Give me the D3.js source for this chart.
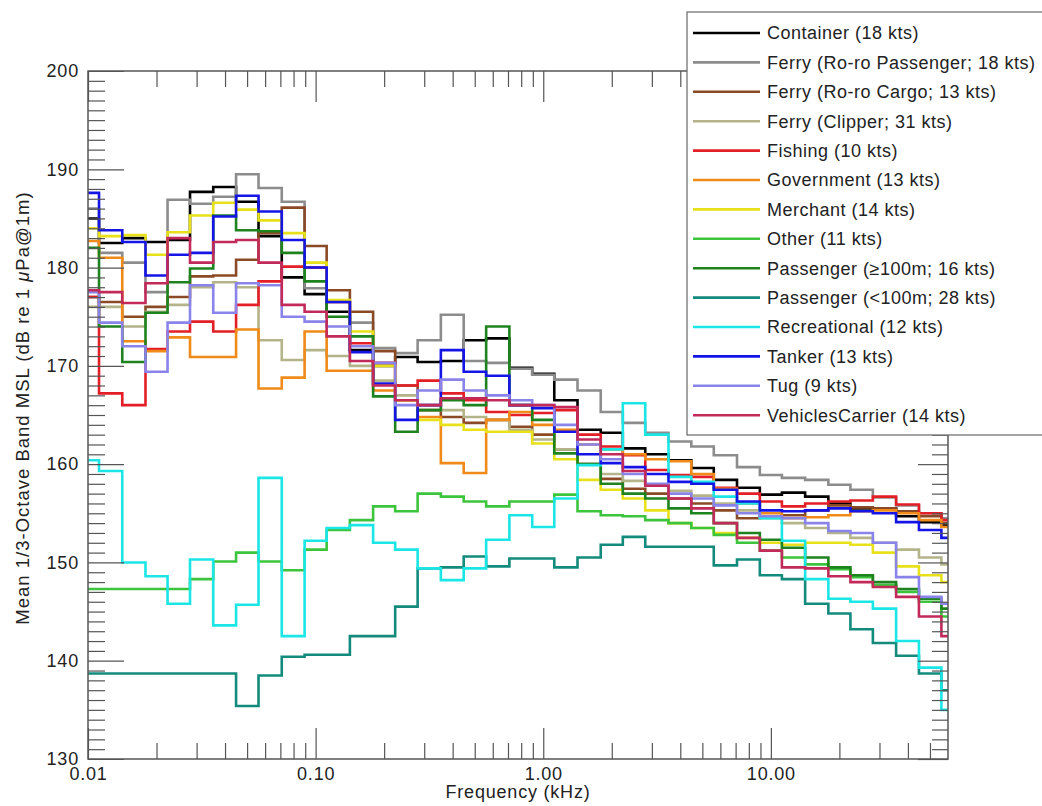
<!DOCTYPE html>
<html>
<head>
<meta charset="utf-8">
<script src="https://cdn.jsdelivr.net/npm/d3@7"></script>
<style>
  body { margin: 0; background: #fff; }
  text { font-family: "Liberation Sans", Arial, Helvetica, sans-serif; fill: #222; }
</style>
</head>
<body>
<svg id="chart" width="1042" height="806"></svg>
<script>
// ---- 1/3-octave band centres (kHz) ----
const bandCenters = [0.01, 0.0125, 0.016, 0.02, 0.025, 0.0315, 0.04, 0.05, 0.063, 0.08,
  0.1, 0.125, 0.16, 0.2, 0.25, 0.315, 0.4, 0.5, 0.63, 0.8,
  1, 1.25, 1.6, 2, 2.5, 3.15, 4, 5, 6.3, 8,
  10, 12.5, 16, 20, 25, 31.5, 40, 50, 63];

// ---- tick values / labels ----
const freqMajorTicks = [0.01, 0.1, 1, 10];
const freqTickLabels = ["0.01", "0.10", "1.00", "10.00"];
const levelMajorTicks = [130, 140, 150, 160, 170, 180, 190, 200];

// ---- series (dB re 1 µPa@1m), one value per band ----
const container = [185, 182.5, 183, 182.6, 182.8, 187.7, 188.2, 186.7, 183.2, 179, 177.3, 175.5, 171.6, 170, 170.9, 170.4, 170.5, 172.6, 172.8, 169.8, 169.2, 166.5, 163.5, 163.2, 161.6, 161, 160.4, 159.6, 158.4, 157.6, 156.9, 157.1, 156.7, 156, 155.5, 155.5, 154.7, 154.1, 153.8];
const ferryRoroPassenger = [186, 181.5, 180.5, 177.5, 186.9, 186.5, 187.2, 189.5, 188.1, 186.7, 177.9, 176.5, 174.4, 171.8, 171.3, 172.6, 175.2, 170.5, 170.3, 169.7, 169.1, 168.6, 167.5, 165.3, 164.2, 163.2, 162.3, 161.8, 160.9, 159.7, 158.9, 158.6, 158.4, 157.9, 157.4, 156.6, 155.8, 155, 154.5];
const ferryRoroCargo = [177, 176.5, 175, 176, 177, 179.1, 179.2, 180.8, 183.5, 186.1, 182.2, 177.7, 175.5, 171.5, 168, 165.5, 164.8, 164.2, 164.5, 163.8, 163, 161.5, 160, 158.5, 157.5, 157, 156.5, 156, 155.3, 154.5, 154.6, 154.8, 155.3, 155.8, 155.6, 155.5, 155.2, 154.7, 154];
const ferryClipper = [176, 176, 174, 175.5, 176.2, 178, 178.5, 178, 172.6, 170.6, 171.6, 171, 170, 168.5, 167, 166, 165.5, 164.8, 164.5, 163.5, 162.5, 161.5, 160, 159, 158.3, 157.8, 157.3, 156.8, 156, 155.3, 154.5, 154, 153.5, 153, 152.5, 152, 151.3, 150.5, 149.8];
const fishing = [177, 167.2, 166, 171.7, 173.5, 174.5, 173.5, 176.2, 178.6, 180.1, 180, 176.5, 172.3, 170.3, 168, 168.5, 167.2, 166.5, 165.3, 165, 165.2, 165.5, 163, 161.8, 160.9, 159.4, 158.9, 158.7, 157.6, 157, 156.2, 155.7, 156, 156.2, 156.3, 156.7, 155.9, 155, 154.3];
const government = [182.7, 181, 172.5, 171.5, 172.9, 170.9, 170.9, 173.7, 167.7, 168.8, 173.5, 169.5, 169.5, 167.5, 166.5, 164.8, 160.1, 159.1, 164.5, 165.3, 164, 163.5, 162, 161.5, 161, 160.5, 160.3, 159, 157.5, 156, 155, 154.5, 154.6, 154.8, 155.2, 155.3, 155, 154.3, 153.6];
const merchant = [184, 183.2, 183.3, 181.3, 183.6, 185.3, 186.6, 185.9, 184.8, 183.5, 180.5, 176.7, 173.5, 170, 166.5, 164.5, 164, 163.5, 163.3, 163.3, 162.1, 160.5, 158.4, 157.4, 156.5, 155.3, 154, 153.5, 153, 152.5, 152, 151.8, 152, 152, 151.8, 151, 149.6, 148.7, 148];
const other = [147.3, 147.3, 147.3, 147.3, 147.3, 148.3, 150.1, 151, 150.1, 149.2, 151.3, 153.3, 154.3, 155.7, 155.2, 157, 156.7, 156.2, 155.7, 156.2, 156.2, 156.9, 155.2, 154.8, 154.7, 154.3, 154, 153.5, 152.8, 152, 151.2, 150.5, 149.8, 149.3, 148.5, 147.7, 147, 146, 144.5];
const passengerLarge = [182, 174, 170.4, 175.4, 178.5, 179.9, 185.3, 183.8, 183.7, 181.5, 178.6, 175, 173, 166.9, 163.3, 165.5, 166.5, 166, 174, 166, 164.5, 161.1, 160, 158, 157, 156.5, 155.5, 155, 154, 153, 152.3, 151.5, 150.5, 149.5, 148.7, 148, 147.3, 146.3, 145.3];
const passengerSmall = [138.7, 138.7, 138.7, 138.7, 138.7, 138.7, 138.7, 135.4, 138.5, 140.4, 140.6, 140.6, 142.5, 142.5, 145.5, 149.4, 149.5, 150.6, 149.6, 150.4, 150.4, 149.5, 150.5, 151.8, 152.6, 151.6, 151.6, 151.6, 149.7, 150.3, 148.7, 148.3, 145.8, 144.8, 143.2, 141.8, 140.5, 138.7, 137];
const recreational = [160.4, 159.3, 150, 148.6, 145.8, 150.3, 143.6, 145.7, 158.6, 142.5, 152.2, 153.5, 153.8, 152, 151.3, 149.4, 148.2, 149.4, 152.3, 154.8, 153.6, 156.5, 159.9, 161.5, 166.2, 163, 158.7, 158.2, 156.7, 156, 154.5, 152.2, 148.3, 146.3, 146, 145.3, 142, 139.3, 135];
const tanker = [187.6, 183.8, 182.6, 179.2, 181.3, 181.5, 185.2, 187.3, 185.7, 182.8, 180, 176.5, 171.4, 168.2, 164.5, 166, 171.6, 169.4, 169, 166, 165.7, 163.3, 161, 160.1, 159.7, 159, 158.2, 158, 157.4, 156.2, 155.3, 155.2, 155.3, 155.5, 155.2, 155, 154.1, 153.3, 152.5];
const tug = [177.5, 174.4, 172, 169.4, 174.4, 178.2, 175.4, 178.4, 178.2, 175, 174.5, 174, 172, 170.3, 166, 167.5, 168.6, 167.5, 167, 166.5, 166, 164, 162, 160.5, 159, 158, 157, 156.5, 155.8, 155, 154.7, 154.5, 154, 153.2, 153, 152, 148.5, 146.5, 145.8];
const vehiclesCarrier = [177.7, 177.5, 176.4, 178.4, 183, 180.5, 182.6, 182.8, 180.5, 176.2, 175.5, 173, 170.5, 168, 166.5, 166, 166.7, 166.7, 166.5, 166, 166, 165.8, 162.5, 161, 159.3, 157.8, 156.5, 155.5, 154, 152.5, 151.2, 149.5, 149.4, 148.6, 148, 147.5, 146.5, 144.5, 142.5];

const seriesNames = ["Container (18 kts)", "Ferry (Ro-ro Passenger; 18 kts)", "Ferry (Ro-ro Cargo; 13 kts)",
  "Ferry (Clipper; 31 kts)", "Fishing (10 kts)", "Government (13 kts)", "Merchant (14 kts)", "Other (11 kts)",
  "Passenger (\u2265100m; 16 kts)", "Passenger (<100m; 28 kts)", "Recreational (12 kts)", "Tanker (13 kts)",
  "Tug (9 kts)", "VehiclesCarrier (14 kts)"];
const seriesColors = ["#000000", "#8c8c8c", "#8b4a26", "#b4b48a", "#e41e26", "#f08a18", "#e8e018", "#3cc43c",
  "#1e821e", "#128a7c", "#1ae6e6", "#1414e6", "#8a84ea", "#c22a5a"];
const seriesValues = [container, ferryRoroPassenger, ferryRoroCargo, ferryClipper, fishing, government, merchant,
  other, passengerLarge, passengerSmall, recreational, tanker, tug, vehiclesCarrier];

// ---- layout ----
const L = 88, R = 948, T = 71, B = 759;
const xDomain = [0.01, 60];
const yDomain = [130, 200];

const svg = d3.select("#chart");
const x = d3.scaleLog().domain(xDomain).range([L, R]);
const y = d3.scaleLinear().domain(yDomain).range([B, T]);

// band edges: geometric means between neighbouring centres, clipped to the axis range
const edges = [xDomain[0]];
for (let i = 0; i < bandCenters.length - 1; i++) edges.push(Math.sqrt(bandCenters[i] * bandCenters[i + 1]));
edges.push(xDomain[1]);

const plot = svg.append("g");
plot.append("clipPath").attr("id", "clip").append("rect")
  .attr("x", L).attr("y", T).attr("width", R - L).attr("height", B - T);

const line = d3.line().x(d => x(d[0])).y(d => y(d[1])).curve(d3.curveStepAfter);

const series = seriesNames.map((name, i) => ({ name, color: seriesColors[i], values: seriesValues[i] }));

series.forEach(s => {
  const pts = s.values.map((v, k) => [edges[k], v]);
  pts.push([edges[edges.length - 1], s.values[s.values.length - 1]]);
  plot.append("path")
    .attr("clip-path", "url(#clip)")
    .attr("d", line(pts))
    .attr("fill", "none")
    .attr("stroke", s.color)
    .attr("stroke-width", 2.6)
    .attr("stroke-linejoin", "miter");
});

// ---- axes ----
const axisColor = "#555";
const xMinor = x.ticks().filter(t => freqMajorTicks.indexOf(t) < 0 && t > xDomain[0] && t < xDomain[1]);
const yMinor = d3.range(131, 200).filter(v => v % 10 !== 0);

function styleAxis(g) {
  g.select(".domain").remove();
  g.selectAll(".tick line").attr("stroke", axisColor).attr("stroke-width", 1.2);
  g.selectAll("text").style("font-size", "18px").style("letter-spacing", "0.8px").attr("fill", "#222");
}

// bottom
svg.append("g").attr("transform", `translate(0,${B})`)
  .call(d3.axisBottom(x).tickValues(xMinor).tickSize(-16).tickFormat(""))
  .call(styleAxis);
svg.append("g").attr("transform", `translate(0,${B})`)
  .call(d3.axisBottom(x).tickValues(freqMajorTicks).tickSize(-31).tickPadding(8)
    .tickFormat((d, i) => freqTickLabels[i]))
  .call(styleAxis);
// top
svg.append("g").attr("transform", `translate(0,${T})`)
  .call(d3.axisTop(x).tickValues(xMinor).tickSize(-16).tickFormat(""))
  .call(styleAxis);
svg.append("g").attr("transform", `translate(0,${T})`)
  .call(d3.axisTop(x).tickValues(freqMajorTicks).tickSize(-31).tickFormat(""))
  .call(styleAxis);
// left
svg.append("g").attr("transform", `translate(${L},0)`)
  .call(d3.axisLeft(y).tickValues(yMinor).tickSize(-17).tickFormat(""))
  .call(styleAxis);
svg.append("g").attr("transform", `translate(${L},0)`)
  .call(d3.axisLeft(y).tickValues(levelMajorTicks).tickSize(-36).tickPadding(9).tickFormat(d3.format("d")))
  .call(styleAxis);
// right
svg.append("g").attr("transform", `translate(${R},0)`)
  .call(d3.axisRight(y).tickValues(yMinor).tickSize(-16).tickFormat(""))
  .call(styleAxis);
svg.append("g").attr("transform", `translate(${R},0)`)
  .call(d3.axisRight(y).tickValues(levelMajorTicks).tickSize(-30).tickFormat(""))
  .call(styleAxis);

// frame
svg.append("rect").attr("x", L).attr("y", T).attr("width", R - L).attr("height", B - T)
  .attr("fill", "none").attr("stroke", axisColor).attr("stroke-width", 1.5);

// axis titles
svg.append("text").attr("x", (L + R) / 2).attr("y", 798).attr("text-anchor", "middle")
  .style("font-size", "18px").style("letter-spacing", "0.8px").text("Frequency (kHz)");

const yt = svg.append("text").attr("transform", `translate(29,408) rotate(-90)`).attr("text-anchor", "middle")
  .style("font-size", "18.5px").style("letter-spacing", "1px");
yt.append("tspan").text("Mean 1/3-Octave Band MSL (dB re 1 ");
yt.append("tspan").style("font-style", "italic").text("\u03bc");
yt.append("tspan").text("Pa@1m)");

// ---- legend ----
const lg = svg.append("g");
const lgX = 687, lgY = 12, lgRowH = 29.4, lgFirst = 33;
lg.append("rect").attr("x", lgX).attr("y", lgY).attr("width", 400).attr("height", 423)
  .attr("fill", "#fff").attr("stroke", "#666").attr("stroke-width", 1.2);
series.forEach((s, i) => {
  const yy = lgFirst + i * lgRowH;
  lg.append("line").attr("x1", 693).attr("x2", 760).attr("y1", yy).attr("y2", yy)
    .attr("stroke", s.color).attr("stroke-width", 2.6);
  lg.append("text").attr("x", 767).attr("y", yy).attr("dy", "0.36em")
    .style("font-size", "18px").style("letter-spacing", "0.5px").text(s.name);
});
</script>
</body>
</html>
